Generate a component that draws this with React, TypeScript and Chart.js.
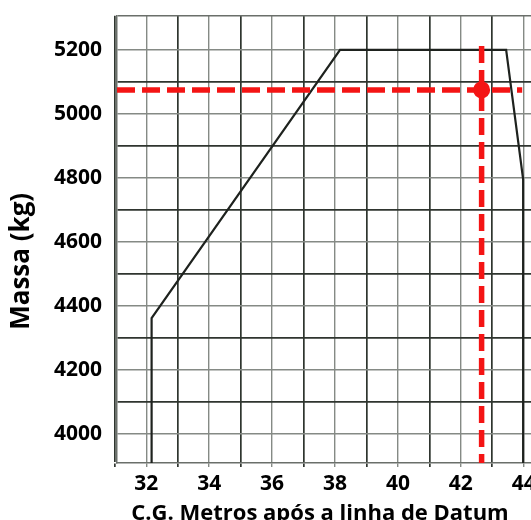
import React, { useEffect, useRef } from 'react';
import { Chart, registerables } from 'chart.js';

Chart.register(...registerables);

// ---- data ----
const xTickValues = [31, 32, 33, 34, 35, 36, 37, 38, 39, 40, 41, 42, 43, 44];
const xLabelValues = [32, 34, 36, 38, 40, 42, 44];
const yTickValues = [4000, 4100, 4200, 4300, 4400, 4500, 4600, 4700, 4800, 4900, 5000, 5100, 5200];
const yLabelValues = [4000, 4200, 4400, 4600, 4800, 5000, 5200];

const envelopeCG = [32.17, 32.17, 38.16, 43.44, 43.98, 43.98];
const envelopeMass = [3905, 4361, 5200, 5200, 4795, 3905];

const markCG = 42.66;
const markMass = 5075;
const markHLineCG = [31.07, 43.95];
const markVLineMass = [5212, 3905];

const xMin = 31.07;
const xMax = 44.23;
const yMin = 3908;
const yMax = 5307;

const xTitle = 'C.G. Metros após a linha de Datum';
const yTitle = 'Massa (kg)';

const FONT = '"Open Sans", "DejaVu Sans", sans-serif';

const DARK = '#2f352f';
const LIGHT = '#858a85';
const EDGE = '#6a6f6a';

const isOdd = (v: number) => Math.round(v) % 2 !== 0;
const yGridColor = (v: number) => (v === yMax ? EDGE : Math.round(v / 100) % 2 !== 0 ? DARK : LIGHT);
const yGridWidth = (v: number) => (v === yMax ? 1.5 : Math.round(v / 100) % 2 !== 0 ? 1.7 : 1.4);

const titlePlugin = {
  id: 'customTitles',
  afterDraw(chart: any) {
    const { ctx, chartArea } = chart;
    ctx.save();
    ctx.fillStyle = '#000';
    ctx.font = `bold 22px ${FONT}`;
    ctx.textAlign = 'center';
    ctx.textBaseline = 'alphabetic';
    ctx.fillText(xTitle, (chartArea.left + chartArea.right) / 2 - 4, 519.5);
    ctx.translate(22, (chartArea.top + chartArea.bottom) / 2 + 22);
    ctx.rotate(-Math.PI / 2);
    ctx.font = `bold 26px ${FONT}`;
    ctx.textBaseline = 'middle';
    ctx.fillText(yTitle, 0, 0);
    ctx.restore();
  },
};

export default function App() {
  const ref = useRef<HTMLCanvasElement | null>(null);

  useEffect(() => {
    if (!ref.current) return;
    const envelope = envelopeCG.map((x, i) => ({ x, y: envelopeMass[i] }));
    const hLine = markHLineCG.map((x) => ({ x, y: markMass }));
    const vLine = markVLineMass.map((y) => ({ x: markCG, y }));

    const chart = new Chart(ref.current, {
      type: 'scatter',
      data: {
        datasets: [
          {
            data: hLine,
            showLine: true,
            borderColor: '#f41414',
            borderWidth: 5.5,
            borderDash: [18, 7],
            pointRadius: 0,
          },
          {
            data: vLine,
            showLine: true,
            borderColor: '#f41414',
            borderWidth: 5.5,
            borderDash: [17, 7],
            pointRadius: 0,
          },
          {
            data: envelope,
            showLine: true,
            borderColor: '#1e221e',
            borderWidth: 2.2,
            pointRadius: 0,
            tension: 0,
          },
          {
            data: [{ x: markCG, y: markMass }],
            showLine: false,
            pointRadius: 8.5,
            pointBackgroundColor: '#f41414',
            pointBorderWidth: 0,
          },
        ],
      },
      options: {
        responsive: false,
        animation: false,
        events: [],
        layout: { autoPadding: false, padding: { top: 15.7, right: 0, left: 0, bottom: 0 } },
        plugins: {
          legend: { display: false },
          tooltip: { enabled: false },
        },
        scales: {
          x: {
            type: 'linear',
            min: xMin,
            max: xMax,
            afterBuildTicks: (s: any) => {
              s.ticks = xTickValues.map((v) => ({ value: v }));
            },
            afterFit: (s: any) => {
              s.height = 520 - 463;
              s.paddingLeft = 0;
              s.paddingRight = 0;
            },
            ticks: {
              autoSkip: false,
              maxRotation: 0,
              padding: 4,
              color: '#000',
              font: { family: FONT, size: 21, weight: 'bold' },
              callback: (v: any) => (xLabelValues.includes(Number(v)) ? String(v) : ''),
            },
            grid: {
              color: (c: any) => (isOdd(c.tick?.value ?? 0) ? DARK : LIGHT),
              lineWidth: (c: any) => (isOdd(c.tick?.value ?? 0) ? 1.7 : 1.4),
              drawTicks: true,
              tickLength: 4,
              tickColor: (c: any) => (isOdd(c.tick?.value ?? 0) ? DARK : LIGHT),
            },
            border: { display: true, color: EDGE, width: 1.5 },
          },
          y: {
            type: 'linear',
            min: yMin,
            max: yMax,
            afterBuildTicks: (s: any) => {
              s.ticks = [...yTickValues, yMax].map((v) => ({ value: v }));
            },
            afterFit: (s: any) => {
              s.width = 117;
              s.paddingTop = 0;
              s.paddingBottom = 0;
            },
            ticks: {
              autoSkip: false,
              padding: 15,
              color: '#000',
              font: { family: FONT, size: 21, weight: 'bold' },
              callback: (v: any) => (yLabelValues.includes(Number(v)) ? String(v) : ''),
            },
            grid: {
              color: (c: any) => yGridColor(c.tick?.value ?? 0),
              lineWidth: (c: any) => yGridWidth(c.tick?.value ?? 0),
              drawTicks: false,
            },
            border: { display: true, color: EDGE, width: 1.5 },
          },
        },
      },
      plugins: [titlePlugin],
    } as any);

    return () => chart.destroy();
  }, []);

  return (
    <div style={{ position: 'absolute', left: 0, top: 0, width: 531, height: 520, background: '#fff' }}>
      <canvas ref={ref} width={531} height={520} style={{ display: 'block', width: 531, height: 520 }} />
    </div>
  );
}
